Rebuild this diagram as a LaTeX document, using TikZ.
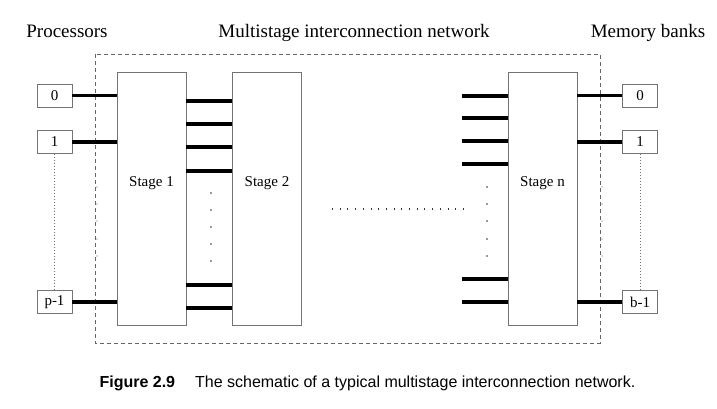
\documentclass[tikz,border=0pt]{standalone}
\usepackage{fontspec}
\setmainfont{Liberation Serif}
\setsansfont{Liberation Sans}
\begin{document}
\begin{tikzpicture}[x=1pt,y=-1pt,
  port/.style={draw=black!55,line width=0.9pt,minimum width=35pt,minimum height=23pt,inner sep=0pt,font=\fontsize{15}{15}\selectfont},
  stagebox/.style={draw=black!55,line width=0.9pt,minimum width=69pt,minimum height=253pt,inner sep=0pt},
  bus/.style={line width=3.2pt,black},
  fence/.style={draw=black!60,line width=0.8pt,dash pattern=on 4pt off 3pt},
  vdots/.style={draw=black!55,line width=0.7pt,dash pattern=on 0.8pt off 2.2pt},
  hdots/.style={draw=black!80,line width=1.1pt,dash pattern=on 1pt off 6.7pt},
  head/.style={font=\rmfamily\fontsize{19}{19}\selectfont,anchor=base},
  slabel/.style={font=\rmfamily\fontsize{15}{15}\selectfont}
]
\useasboundingbox (0,0) rectangle (717,408);
\fill[white] (0,0) rectangle (717,408);

% headings
\node[head] (hp) at (67,37) {Processors};
\node[head] (hm) at (354,37) {Multistage interconnection network};
\node[head] (hb) at (648,37) {Memory banks};

% dashed network boundary
\draw[fence] (95,54) rectangle (600,343);

% stages
\node[stagebox] (s1) at (151.5,198.5) {};
\node[stagebox] (s2) at (267,198.5) {};
\node[stagebox] (sn) at (542.5,198.5) {};
\node[slabel] (l1) at ([yshift=15pt]s1.center) {Stage 1};
\node[slabel] (l2) at ([yshift=15pt]s2.center) {Stage 2};
\node[slabel] (ln) at ([yshift=15pt]sn.center) {Stage n};

% processors
\node[port] (p0) at (54.5,95.5) {0};
\node[port] (p1) at (54.5,142) {1};
\node[port] (pp) at (54.5,302) {p-1};
% memory banks
\node[port] (m0) at (640,95.5) {0};
\node[port] (m1) at (640,142) {1};
\node[port] (mb) at (640,302) {b-1};

\draw[vdots] (p1.south) -- (pp.north);
\draw[vdots] (m1.south) -- (mb.north);

% processor -> stage 1
\foreach \n in {p0,p1,pp} \draw[bus] (\n.east) -- (\n.east -| s1.west);
% stage n -> memory
\foreach \n in {m0,m1,mb} \draw[bus] (\n.west -| sn.east) -- (\n.west);

% stage 1 -> stage 2
\foreach \y in {101,124,147,171,285,308}
  \draw[bus] (s1.east |- 0,\y) -- (s2.west |- 0,\y);
% lines into stage n
\coordinate (nl) at (462,0);
\foreach \y in {96,118,141,164,279,302}
  \draw[bus] (nl |- 0,\y) -- (sn.west |- 0,\y);

% dots
\foreach \y in {193,210,227,244,261}
  \fill[black!80] (211,\y) circle (0.8pt);
\foreach \y in {187,204,221,239,256}
  {\fill[black!80] (487,\y) circle (0.8pt);
   \fill[black!60] (97,\y) circle (0.7pt);
   \fill[black!60] (602,\y) circle (0.7pt);}
\coordinate (ha) at (332,209);
\coordinate (hz) at (466,209);
\draw[hdots] (ha) -- (hz);

% caption
\node[anchor=base west,font=\sffamily\fontsize{16}{16}\selectfont] (cap) at (96,387)
  {\textbf{Figure 2.9}\hspace{20pt}The schematic of a typical multistage interconnection network.};
\end{tikzpicture}
\end{document}
